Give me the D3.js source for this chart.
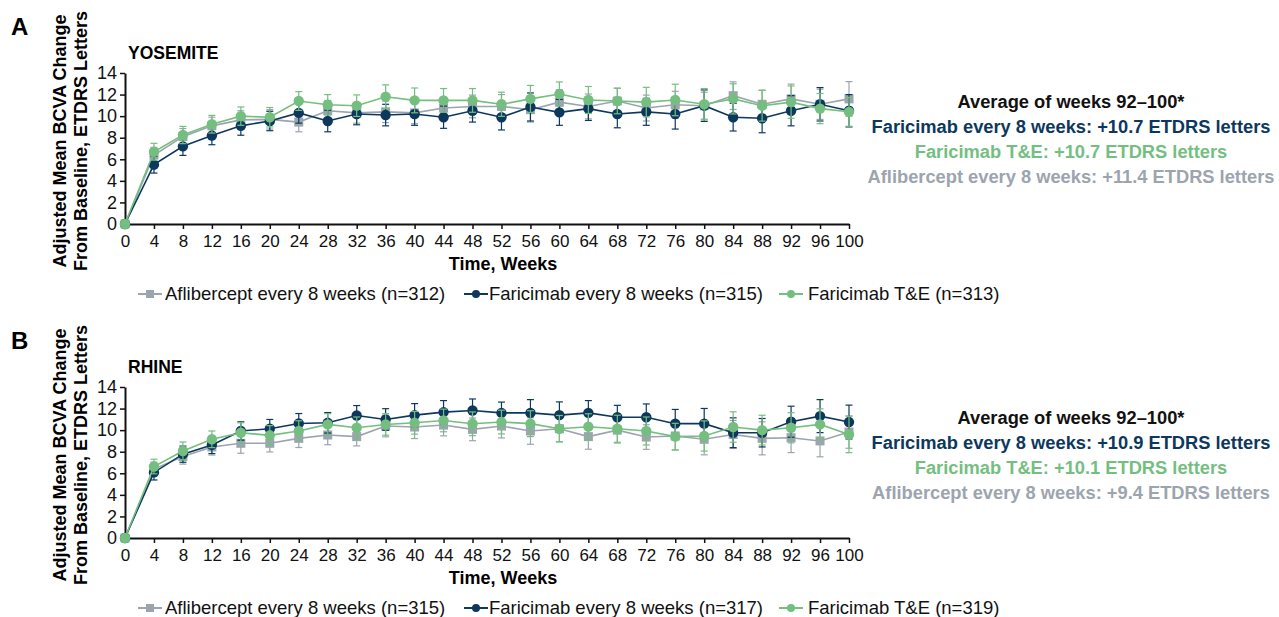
<!DOCTYPE html>
<html>
<head>
<meta charset="utf-8">
<script src="https://cdn.jsdelivr.net/npm/d3@7"></script>
<style>
  body { margin: 0; background: #fff; }
  svg { font-family: "Liberation Sans", Arial, sans-serif; }
</style>
</head>
<body>
<div id="chart"></div>
<script>
// DATA //
const weeks = [0, 4, 8, 12, 16, 20, 24, 28, 32, 36, 40, 44, 48, 52, 56, 60, 64, 68, 72, 76, 80, 84, 88, 92, 96, 100]
const yTicks = [0, 2, 4, 6, 8, 10, 12, 14]

// YOSEMITE
const yosAfl = [0, 6.4, 8.1, 9.1, 9.65, 9.7, 9.45, 10.5, 10.3, 10.4, 10.3, 10.75, 10.9, 10.9, 10.6, 11.3, 10.9, 11.4, 10.75, 11.05, 10.97, 11.9, 11.1, 11.6, 11.1, 11.6]
const yosAflErr = [0, 0.7, 0.75, 0.8, 0.85, 0.9, 0.9, 0.95, 0.95, 1.0, 1.0, 1.0, 1.05, 1.1, 1.15, 1.15, 1.15, 1.2, 1.2, 1.25, 1.25, 1.28, 1.3, 1.37, 1.4, 1.6]
const yosQ8w = [0, 5.5, 7.2, 8.2, 9.1, 9.55, 10.3, 9.55, 10.2, 10.1, 10.2, 9.9, 10.5, 9.9, 10.85, 10.35, 10.7, 10.2, 10.4, 10.2, 10.97, 9.9, 9.8, 10.5, 11.1, 10.5]
const yosQ8wErr = [0, 0.78, 0.84, 0.85, 0.87, 0.9, 0.95, 1.0, 1.0, 1.0, 1.05, 1.03, 1.05, 1.18, 1.3, 1.2, 1.1, 1.28, 1.25, 1.4, 1.46, 1.28, 1.34, 1.4, 1.55, 1.5]
const yosTE = [0, 6.7, 8.25, 9.25, 10.0, 9.9, 11.4, 11.05, 10.97, 11.8, 11.46, 11.46, 11.46, 11.1, 11.6, 12.05, 11.5, 11.4, 11.3, 11.5, 11.1, 11.6, 10.97, 11.3, 10.7, 10.4]
const yosTEErr = [0, 0.78, 0.8, 0.82, 0.85, 0.9, 0.87, 0.95, 1.0, 1.1, 1.15, 1.1, 1.1, 1.12, 1.25, 1.12, 1.25, 1.18, 1.37, 1.46, 1.46, 1.4, 1.43, 1.5, 1.4, 1.34]

// RHINE
const rhAfl = [0, 6.39, 7.55, 8.44, 8.78, 8.78, 9.24, 9.55, 9.4, 10.38, 10.29, 10.47, 10.07, 10.38, 9.92, 10.13, 9.4, 10.0, 9.36, 9.46, 9.15, 9.6, 9.24, 9.3, 9.0, 9.82]
const rhAflErr = [0, 0.65, 0.7, 0.75, 0.92, 0.8, 0.85, 0.9, 0.86, 1.0, 1.07, 1.0, 1.05, 1.1, 1.23, 1.2, 1.17, 1.2, 1.14, 1.3, 1.44, 1.3, 1.53, 1.38, 1.47, 1.5]
const rhQ8w = [0, 6.08, 7.77, 8.63, 9.92, 10.13, 10.62, 10.68, 11.36, 10.99, 11.39, 11.67, 11.82, 11.6, 11.6, 11.39, 11.6, 11.2, 11.2, 10.6, 10.6, 9.76, 9.76, 10.78, 11.3, 10.75]
const rhQ8wErr = [0, 0.7, 0.75, 0.8, 0.85, 0.86, 0.92, 0.95, 0.92, 1.0, 1.07, 1.07, 1.07, 1.0, 1.23, 1.23, 1.14, 1.1, 1.23, 1.32, 1.41, 1.38, 1.32, 1.44, 1.53, 1.57]
const rhTE = [0, 6.63, 8.07, 9.15, 9.76, 9.52, 9.92, 10.53, 10.22, 10.53, 10.68, 10.9, 10.59, 10.75, 10.6, 10.13, 10.32, 10.13, 9.92, 9.4, 9.46, 10.29, 10.0, 10.22, 10.53, 9.6]
const rhTEErr = [0, 0.68, 0.83, 0.77, 0.92, 0.9, 0.95, 1.0, 1.0, 1.0, 1.05, 1.05, 1.1, 1.1, 1.2, 1.23, 1.2, 1.25, 1.3, 1.23, 1.4, 1.41, 1.38, 1.4, 1.45, 1.69]

const yosLegend = ["Aflibercept every 8 weeks (n=312)", "Faricimab every 8 weeks (n=315)", "Faricimab T&E (n=313)"]
const rhLegend = ["Aflibercept every 8 weeks (n=315)", "Faricimab every 8 weeks (n=317)", "Faricimab T&E (n=319)"]
const yosAvg = ["Faricimab every 8 weeks: +10.7 ETDRS letters", "Faricimab T&E: +10.7 ETDRS letters", "Aflibercept every 8 weeks: +11.4 ETDRS letters"]
const rhAvg = ["Faricimab every 8 weeks: +10.9 ETDRS letters", "Faricimab T&E: +10.1 ETDRS letters", "Aflibercept every 8 weeks: +9.4 ETDRS letters"]

// STYLE //
const navy = "#0d385e"
const green = "#74bf7f"
const gray = "#9ca4ae"

const svg = d3.select("#chart")
    .append("svg")
    .attr("width", 1279)
    .attr("height", 617)

const xScale = d3.scaleLinear()
    .domain([0, 100])
    .range([125, 849])

function drawPanel(p) {
    const g = svg.append("g")
    const yScale = d3.scaleLinear()
        .domain([0, 14])
        .range([p.y0, p.y0 - 151])

    // panel letter + title
    g.append("text")
        .attr("x", 11).attr("y", p.y0 - 189)
        .attr("font-size", 24).attr("font-weight", "bold")
        .text(p.letter)
    g.append("text")
        .attr("x", 128).attr("y", p.y0 - 165)
        .attr("font-size", 17.5).attr("font-weight", "bold")
        .text(p.title)

    // y label (two lines)
    const yLab = g.append("text")
        .attr("transform", `translate(0, ${p.y0 - 83}) rotate(-90)`)
        .attr("text-anchor", "middle")
        .attr("font-size", 18).attr("font-weight", "bold")
    yLab.append("tspan").attr("x", 0).attr("y", 66).text("Adjusted Mean BCVA Change")
    yLab.append("tspan").attr("x", 0).attr("y", 87).text("From Baseline, ETDRS Letters")

    // axes
    const yAxis = g.append("g")
        .attr("transform", "translate(125,0)")
        .call(d3.axisLeft(yScale).tickValues(yTicks).tickSize(5).tickSizeOuter(0).tickPadding(3))
    yAxis.selectAll("text").attr("font-size", 18).attr("fill", "#111")

    const xAxis = g.append("g")
        .attr("transform", `translate(0,${p.y0})`)
        .call(d3.axisBottom(xScale).tickValues(weeks).tickSize(5).tickSizeOuter(0).tickPadding(6))
    xAxis.selectAll("text").attr("font-size", 17).attr("fill", "#111")

    g.selectAll(".domain").attr("stroke", "#111").attr("stroke-width", 2)
    g.selectAll(".tick line").attr("stroke", "#111").attr("stroke-width", 1.5)

    g.append("text")
        .attr("x", 503).attr("y", p.y0 + 46)
        .attr("text-anchor", "middle")
        .attr("font-size", 18).attr("font-weight", "bold")
        .text("Time, Weeks")

    // series: gray, navy, green
    const line = d3.line()
        .x((d, i) => xScale(weeks[i]))
        .y(d => yScale(d))

    p.series.forEach(s => {
        const sg = g.append("g")
        // error bars
        s.values.forEach((v, i) => {
            if (s.err[i] === 0) return
            const x = xScale(weeks[i])
            const y1 = yScale(v + s.err[i])
            const y2 = yScale(v - s.err[i])
            sg.append("line")
                .attr("x1", x).attr("x2", x).attr("y1", y1).attr("y2", y2)
                .attr("stroke", s.color).attr("stroke-width", 1.2)
            ;[y1, y2].forEach(yy => sg.append("line")
                .attr("x1", x - 3.5).attr("x2", x + 3.5).attr("y1", yy).attr("y2", yy)
                .attr("stroke", s.color).attr("stroke-width", 1.2))
        })
        sg.append("path")
            .attr("d", line(s.values))
            .attr("fill", "none")
            .attr("stroke", s.color)
            .attr("stroke-width", 1.6)
        if (s.shape === "square") {
            sg.selectAll("rect").data(s.values).join("rect")
                .attr("x", (d, i) => xScale(weeks[i]) - 4.5)
                .attr("y", d => yScale(d) - 4.5)
                .attr("width", 9).attr("height", 9)
                .attr("fill", s.color)
        } else {
            sg.selectAll("circle").data(s.values).join("circle")
                .attr("cx", (d, i) => xScale(weeks[i]))
                .attr("cy", d => yScale(d))
                .attr("r", 5.2)
                .attr("fill", s.color)
        }
    })

    // legend
    const legX = [150, 476, 791]
    const textX = [165, 489, 808]
    const legY = p.y0 + 70
    p.series.forEach((s, i) => {
        g.append("line")
            .attr("x1", legX[i] - 12).attr("x2", legX[i] + 12)
            .attr("y1", legY).attr("y2", legY)
            .attr("stroke", s.color).attr("stroke-width", 2)
        if (s.shape === "square") {
            g.append("rect").attr("x", legX[i] - 4).attr("y", legY - 4)
                .attr("width", 8).attr("height", 8).attr("fill", s.color)
        } else {
            g.append("circle").attr("cx", legX[i]).attr("cy", legY)
                .attr("r", 4).attr("fill", s.color)
        }
        g.append("text")
            .attr("x", textX[i]).attr("y", legY + 6)
            .attr("font-size", 18.5).attr("fill", "#111")
            .text(p.legend[i])
    })

    // averages text block
    const avgColors = [navy, green, gray]
    g.append("text")
        .attr("x", 1071).attr("y", p.ty)
        .attr("text-anchor", "middle")
        .attr("font-size", 18.3).attr("font-weight", "bold").attr("fill", "#111")
        .text("Average of weeks 92–100*")
    p.avg.forEach((t, i) => {
        g.append("text")
            .attr("x", 1071).attr("y", p.ty + 25 * (i + 1))
            .attr("text-anchor", "middle")
            .attr("font-size", 18.3).attr("font-weight", "bold")
            .attr("fill", avgColors[i])
            .text(t)
    })
}

drawPanel({
    letter: "A", title: "YOSEMITE", y0: 224, ty: 108,
    legend: yosLegend, avg: yosAvg,
    series: [
        { values: yosAfl, err: yosAflErr, color: gray, shape: "square" },
        { values: yosQ8w, err: yosQ8wErr, color: navy, shape: "circle" },
        { values: yosTE, err: yosTEErr, color: green, shape: "circle" },
    ]
})

drawPanel({
    letter: "B", title: "RHINE", y0: 538, ty: 424,
    legend: rhLegend, avg: rhAvg,
    series: [
        { values: rhAfl, err: rhAflErr, color: gray, shape: "square" },
        { values: rhQ8w, err: rhQ8wErr, color: navy, shape: "circle" },
        { values: rhTE, err: rhTEErr, color: green, shape: "circle" },
    ]
})
</script>
</body>
</html>
